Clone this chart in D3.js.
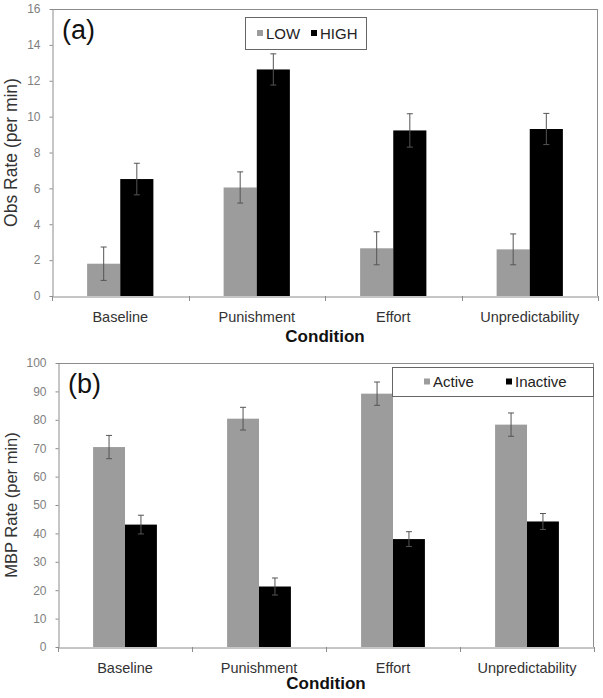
<!DOCTYPE html>
<html><head><meta charset="utf-8">
<script src="https://cdn.jsdelivr.net/npm/d3@7"></script>
<style>body{margin:0;background:#fff;} svg{display:block;font-family:"Liberation Sans",Arial,sans-serif;}</style>
</head><body>
<script>
const categories = ["Baseline","Punishment","Effort","Unpredictability"];
const seriesA = ["LOW","HIGH"];
const lowA = [1.8, 6.05, 2.66, 2.6];
const highA = [6.52, 12.63, 9.23, 9.31];
const lowErrA = [0.93, 0.87, 0.92, 0.86];
const highErrA = [0.88, 0.87, 0.93, 0.87];
const ticksA = [0,2,4,6,8,10,12,14,16];

const seriesB = ["Active","Inactive"];
const activeB = [70.4, 80.4, 89.2, 78.3];
const inactiveB = [43.1, 21.3, 38.0, 44.2];
const activeErrB = [4.1, 4.0, 4.1, 4.1];
const inactiveErrB = [3.3, 3.0, 2.6, 2.8];
const ticksB = [0,10,20,30,40,50,60,70,80,90,100];

const colors = {LOW:"#9c9c9c", HIGH:"#000000", Active:"#9c9c9c", Inactive:"#000000"};

const svg = d3.select("body").append("svg").attr("width",603).attr("height",698);

function panel(cfg){
  const g = svg.append("g");
  const x0 = d3.scaleBand().domain(categories).range([cfg.left, cfg.right]).paddingInner(0).paddingOuter(0);
  const x1 = d3.scaleBand().domain(cfg.series).range([0, x0.bandwidth()]).paddingInner(0).paddingOuter(cfg.pad);
  const y = d3.scaleLinear().domain([0, cfg.max]).range([cfg.bottom, cfg.top]);
  const axisCol = "#8c8c8c";
  // frame top and right
  g.append("line").attr("x1",cfg.left).attr("x2",cfg.right).attr("y1",cfg.top+0.5).attr("y2",cfg.top+0.5).attr("stroke",axisCol);
  g.append("line").attr("x1",cfg.right-0.5).attr("x2",cfg.right-0.5).attr("y1",cfg.top).attr("y2",cfg.bottom).attr("stroke",axisCol);
  // bars
  const data = [];
  categories.forEach((c,i)=>{
    cfg.series.forEach((s,j)=>{
      data.push({c, s, v: cfg.values[j][i], e: cfg.errs[j][i]});
    });
  });
  g.selectAll("rect.bar").data(data).join("rect").attr("class","bar")
    .attr("x", d=>x0(d.c)+x1(d.s)).attr("width", x1.bandwidth())
    .attr("y", d=>y(d.v)).attr("height", d=>y(0)-y(d.v))
    .attr("fill", d=>colors[d.s]);
  // error bars
  const eb = g.selectAll("g.err").data(data).join("g").attr("class","err")
    .attr("stroke","#555").attr("stroke-width",1);
  eb.append("line").attr("x1",d=>x0(d.c)+x1(d.s)+x1.bandwidth()/2).attr("x2",d=>x0(d.c)+x1(d.s)+x1.bandwidth()/2)
    .attr("y1",d=>y(d.v+d.e)).attr("y2",d=>y(d.v-d.e));
  eb.append("line").attr("x1",d=>x0(d.c)+x1(d.s)+x1.bandwidth()/2-3).attr("x2",d=>x0(d.c)+x1(d.s)+x1.bandwidth()/2+3)
    .attr("y1",d=>y(d.v+d.e)).attr("y2",d=>y(d.v+d.e));
  eb.append("line").attr("x1",d=>x0(d.c)+x1(d.s)+x1.bandwidth()/2-3).attr("x2",d=>x0(d.c)+x1(d.s)+x1.bandwidth()/2+3)
    .attr("y1",d=>y(d.v-d.e)).attr("y2",d=>y(d.v-d.e));
  // y axis
  const ya = g.append("g").attr("transform",`translate(${cfg.left+0.5},0)`)
    .call(d3.axisLeft(y).tickValues(cfg.ticks).tickSize(3).tickPadding(9).tickSizeOuter(0));
  ya.select(".domain").attr("stroke",axisCol);
  ya.selectAll(".tick line").attr("stroke",axisCol);
  ya.selectAll("text").attr("fill","#808080").style("font-size","12px").style("font-family","Liberation Sans, Arial, sans-serif");
  // x axis
  const xa = g.append("g").attr("transform",`translate(0,${cfg.bottom+0.5})`)
    .call(d3.axisBottom(x0).tickSize(0).tickPadding(15));
  xa.select(".domain").attr("stroke",axisCol);
  xa.selectAll("text").attr("fill","#333").style("font-size","14.5px").style("font-family","Liberation Sans, Arial, sans-serif");
  // boundary ticks
  const bounds = categories.map(c=>x0(c)).concat([cfg.right]);
  g.selectAll("line.bt").data(bounds).join("line").attr("class","bt")
    .attr("x1",d=>Math.round(d)+0.5).attr("x2",d=>Math.round(d)+0.5)
    .attr("y1",cfg.bottom).attr("y2",cfg.bottom+5).attr("stroke",axisCol);
  // titles
  g.append("text").attr("x",(cfg.left+cfg.right)/2).attr("y",cfg.xTitleY).attr("text-anchor","middle")
    .style("font-size","17px").style("font-weight","bold").attr("fill","#111").text("Condition");
  g.append("text").attr("transform",`translate(17,${(cfg.top+cfg.bottom)/2}) rotate(-90)`).attr("text-anchor","middle")
    .style("font-size",cfg.yTitleSize).attr("fill","#333").text(cfg.yTitle);
  g.append("text").attr("x",cfg.left+10).attr("y",cfg.top+30).style("font-size","27px").attr("fill","#111").text(cfg.label);
  // legend
  const L = cfg.legend;
  g.append("rect").attr("x",L.x+0.5).attr("y",L.y+0.5).attr("width",L.w).attr("height",L.h)
    .attr("fill","#fff").attr("stroke","#666");
  cfg.series.forEach((s,j)=>{
    g.append("rect").attr("x",L.items[j]).attr("y",L.y+L.h/2-3).attr("width",6).attr("height",6).attr("fill",colors[s]);
    g.append("text").attr("x",L.items[j]+9).attr("y",L.y+L.h/2+5.5).style("font-size","15px").attr("fill","#222").text(s);
  });
}

panel({left:52, right:598, top:9, bottom:296, max:16, ticks:ticksA, series:seriesA,
  values:[lowA, highA], errs:[lowErrA, highErrA], pad:1.06,
  xTitleY:342, yTitle:"Obs Rate (per min)", yTitleSize:"17.5px", label:"(a)",
  legend:{x:245, y:17, w:121, h:32, items:[257, 311]}});
panel({left:58, right:594, top:363, bottom:647, max:100, ticks:ticksB, series:seriesB,
  values:[activeB, inactiveB], errs:[activeErrB, inactiveErrB], pad:1.1,
  xTitleY:689, yTitle:"MBP Rate (per min)", yTitleSize:"16.5px", label:"(b)",
  legend:{x:392, y:367, w:201, h:29, items:[424, 506]}});
</script>
</body></html>
